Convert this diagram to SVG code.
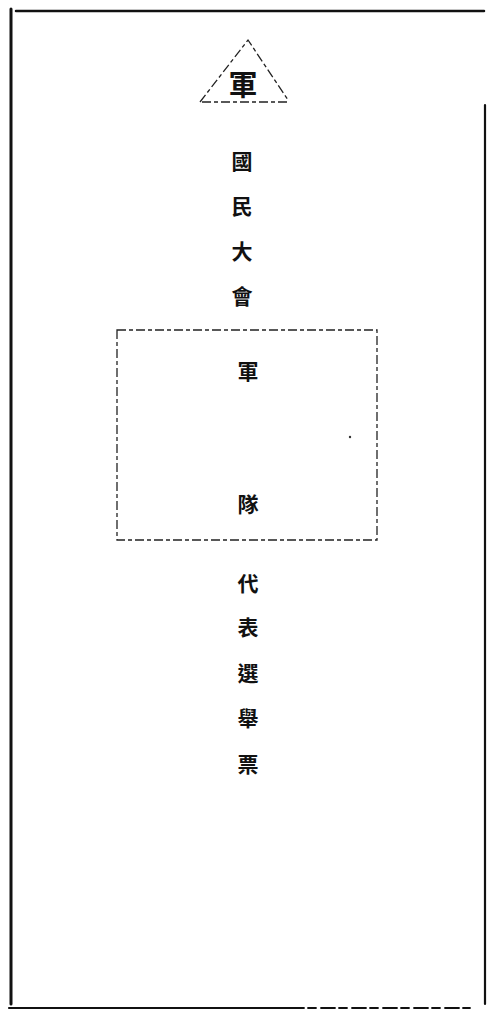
<svg xmlns="http://www.w3.org/2000/svg" width="487" height="1011" viewBox="0 0 487 1011">
<style>
.t{font-family:"Noto Sans CJK TC","Noto Sans CJK SC",sans-serif;font-size:21px;font-weight:bold;fill:#111;text-anchor:middle;dominant-baseline:central}
.frame{stroke:#111;fill:none;stroke-linecap:round}
.dash{stroke:#222;fill:none;stroke-width:1.3;stroke-dasharray:9 3 4 3}
</style>
<rect width="487" height="1011" fill="#fff"/>
<g id="frame">
<line class="frame" x1="16" y1="11" x2="484" y2="11" stroke-width="2.5"/>
<line class="frame" x1="11" y1="9" x2="11" y2="1004" stroke-width="3"/>
<line class="frame" x1="485" y1="105" x2="485" y2="1004" stroke-width="2.2"/>
<line class="frame" x1="9" y1="1008" x2="290" y2="1008" stroke-width="2.2"/>
<line class="frame" x1="290" y1="1008" x2="470" y2="1008" stroke-width="1.8" stroke-dasharray="14 4 8 5"/>
</g>
<g id="triangle">
<path class="dash" d="M200,102 L248,40 L288,100" stroke-dasharray="6 3 2 3"/>
<line class="dash" x1="202" y1="102" x2="288" y2="102" stroke-width="1.6"/>
<text class="t" x="243" y="83" style="font-size:29px">軍</text>
</g>
<g id="upper">
<text class="t" x="242" y="160">國</text>
<text class="t" x="242" y="205">民</text>
<text class="t" x="242" y="250">大</text>
<text class="t" x="242" y="295">會</text>
</g>
<g id="box">
<rect class="dash" x="117" y="330" width="260" height="210"/>
<text class="t" x="248" y="370">軍</text>
<text class="t" x="248" y="503">隊</text>
<circle cx="350" cy="437" r="1.2" fill="#333"/>
</g>
<g id="lower">
<text class="t" x="248" y="582">代</text>
<text class="t" x="248" y="626">表</text>
<text class="t" x="248" y="672">選</text>
<text class="t" x="248" y="717">舉</text>
<text class="t" x="248" y="763">票</text>
</g>
<g id="connectors"></g>
</svg>
